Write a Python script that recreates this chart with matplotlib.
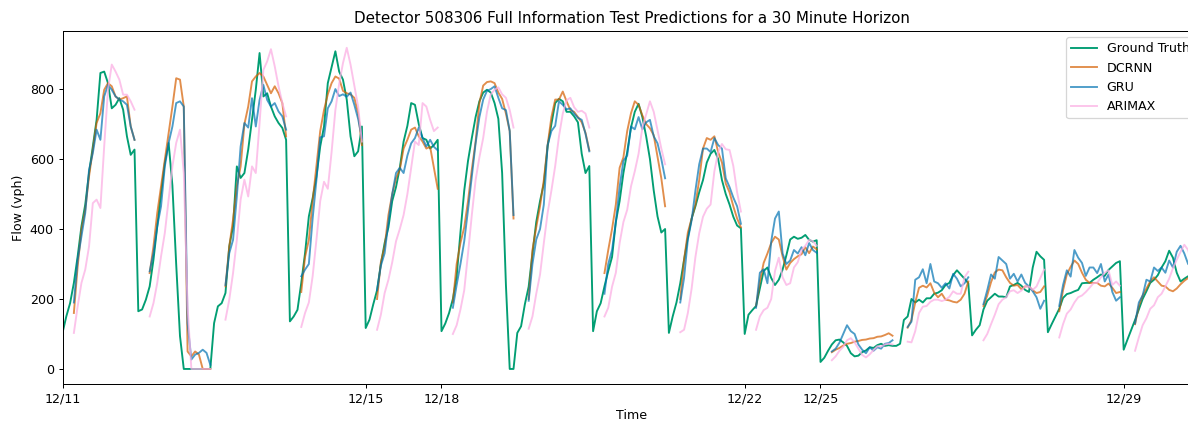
import numpy as np
import matplotlib.pyplot as plt

# weekdays only, 20 samples per day; predictions start 3 samples into each day
day_labels = ["12/11", "12/12", "12/13", "12/14", "12/15",
              "12/18", "12/19", "12/20", "12/21", "12/22",
              "12/25", "12/26", "12/27", "12/28", "12/29"]
tick_labels = ["12/11", "12/15", "12/18", "12/22", "12/25", "12/29"]
samples_per_day = 20
pred_start = 3

ground_truth = [
    [103, 150, 188, 246, 322, 408, 470, 560, 636, 712, 846, 850, 817, 745, 755, 774, 741, 665, 612, 627],
    [165, 170, 198, 236, 312, 408, 503, 589, 646, 524, 299, 94, 0, 0, 0, 0, 0, 0, 0, 0],
    [131, 179, 188, 217, 350, 408, 579, 546, 560, 627, 712, 798, 903, 779, 788, 750, 722, 703, 689, 655],
    [136, 150, 169, 246, 331, 436, 488, 550, 636, 693, 817, 863, 908, 850, 827, 770, 665, 608, 622, 693],
    [117, 141, 185, 225, 300, 360, 405, 480, 520, 575, 650, 695, 760, 755, 700, 660, 655, 630, 640, 655],
    [108, 130, 160, 200, 265, 390, 510, 595, 660, 720, 765, 790, 798, 790, 760, 715, 560, 240, 0, 0],
    [103, 122, 185, 235, 330, 420, 480, 530, 636, 700, 760, 772, 765, 735, 735, 722, 705, 615, 560, 580],
    [108, 165, 188, 236, 280, 320, 420, 480, 560, 620, 690, 735, 758, 720, 665, 600, 510, 436, 390, 400],
    [103, 150, 190, 245, 312, 375, 430, 465, 505, 540, 590, 615, 626, 600, 540, 500, 470, 435, 410, 402],
    [100, 155, 168, 180, 230, 280, 290, 260, 240, 255, 284, 325, 370, 378, 372, 375, 383, 369, 364, 368],
    [20, 32, 52, 70, 82, 84, 76, 66, 45, 36, 38, 48, 53, 62, 60, 68, 72, 66, 68, 66],
    [66, 72, 140, 150, 200, 190, 198, 190, 202, 202, 215, 218, 225, 240, 246, 268, 282, 270, 258, 245],
    [96, 112, 125, 170, 195, 205, 215, 207, 207, 205, 236, 240, 246, 238, 226, 220, 290, 335, 322, 312],
    [105, 128, 150, 172, 203, 214, 217, 222, 226, 245, 246, 246, 255, 262, 270, 266, 283, 293, 303, 308],
    [55, 84, 112, 140, 170, 200, 222, 246, 255, 268, 290, 308, 338, 318, 275, 250, 258, 265, 260, 255],
]

dcrnn = [
    [160, 293, 398, 455, 550, 627, 703, 731, 798, 817, 808, 779, 770, 774, 779, 693, 655],
    [274, 350, 446, 522, 598, 674, 750, 831, 827, 750, 50, 36, 50, 41, 0, 0, 0],
    [236, 350, 427, 522, 579, 700, 750, 822, 836, 846, 836, 812, 788, 808, 788, 760, 665],
    [220, 320, 369, 480, 580, 680, 740, 785, 817, 836, 830, 795, 788, 785, 775, 731, 640],
    [200, 305, 350, 440, 500, 545, 570, 630, 655, 684, 690, 665, 650, 630, 635, 575, 515],
    [190, 300, 360, 405, 480, 570, 650, 760, 810, 820, 822, 817, 790, 772, 730, 680, 430],
    [200, 340, 405, 465, 540, 640, 720, 770, 770, 793, 765, 740, 735, 720, 705, 675, 625],
    [274, 340, 400, 470, 575, 605, 680, 731, 765, 755, 725, 700, 688, 668, 607, 545, 465],
    [200, 312, 390, 430, 470, 540, 630, 660, 655, 665, 620, 590, 530, 505, 465, 430, 405],
    [180, 250, 303, 330, 360, 378, 370, 322, 284, 303, 314, 322, 328, 348, 331, 350, 342],
    [48, 55, 60, 67, 72, 74, 78, 80, 83, 84, 87, 88, 92, 93, 97, 102, 95],
    [118, 140, 190, 232, 238, 233, 245, 218, 205, 215, 198, 196, 192, 190, 198, 215, 250],
    [180, 210, 248, 276, 284, 282, 262, 246, 238, 240, 228, 236, 236, 225, 217, 220, 236],
    [165, 225, 270, 292, 310, 300, 275, 255, 246, 246, 246, 238, 236, 244, 232, 217, 220],
    [128, 180, 210, 230, 250, 262, 250, 238, 236, 226, 222, 230, 242, 252, 260, 250, 255],
]

gru = [
    [190, 312, 379, 446, 569, 617, 684, 655, 779, 812, 798, 779, 770, 765, 755, 693, 655],
    [279, 331, 408, 465, 579, 646, 693, 760, 765, 750, 131, 27, 41, 46, 55, 46, 12],
    [240, 331, 369, 493, 636, 703, 690, 774, 693, 769, 812, 769, 750, 760, 736, 722, 684],
    [265, 284, 300, 430, 540, 662, 665, 745, 765, 800, 780, 785, 778, 790, 755, 715, 660],
    [225, 295, 331, 420, 500, 560, 575, 560, 610, 645, 660, 690, 660, 636, 655, 635, 625],
    [175, 240, 300, 365, 455, 550, 645, 720, 770, 795, 800, 808, 775, 745, 740, 680, 440],
    [195, 300, 370, 400, 470, 640, 680, 695, 765, 755, 742, 745, 730, 718, 712, 672, 622],
    [215, 300, 340, 420, 520, 595, 610, 693, 685, 720, 685, 705, 712, 665, 645, 600, 545],
    [190, 260, 370, 425, 510, 585, 630, 630, 620, 660, 640, 630, 545, 520, 490, 465, 415],
    [175, 275, 285, 245, 365, 430, 450, 330, 300, 310, 340, 330, 348, 325, 360, 340, 332],
    [50, 58, 75, 100, 125, 108, 100, 70, 55, 45, 62, 52, 62, 58, 72, 74, 82],
    [120, 135, 255, 262, 285, 245, 300, 250, 245, 232, 245, 230, 272, 258, 236, 245, 262],
    [185, 225, 270, 258, 320, 310, 300, 258, 272, 250, 270, 246, 236, 222, 205, 172, 195],
    [180, 240, 282, 264, 340, 318, 303, 266, 290, 290, 274, 300, 250, 270, 220, 195, 205],
    [130, 190, 210, 255, 250, 290, 280, 290, 275, 310, 290, 335, 352, 330, 300, 290, 280],
]

arimax = [
    [103, 179, 246, 284, 350, 474, 484, 460, 636, 798, 870, 850, 827, 784, 784, 765, 741],
    [150, 188, 246, 322, 389, 484, 579, 646, 684, 560, 179, 0, 0, 0, 0, 0, 0],
    [141, 198, 274, 369, 484, 541, 493, 579, 560, 703, 855, 879, 914, 865, 808, 760, 722],
    [120, 160, 190, 265, 369, 480, 535, 515, 620, 740, 815, 874, 918, 870, 810, 750, 650],
    [112, 155, 217, 255, 305, 365, 400, 440, 500, 575, 650, 640, 760, 750, 712, 680, 690],
    [100, 125, 170, 225, 330, 440, 540, 605, 660, 735, 785, 798, 805, 785, 775, 740, 690],
    [115, 150, 215, 270, 360, 446, 510, 580, 665, 730, 768, 775, 748, 735, 738, 730, 690],
    [150, 175, 235, 275, 360, 420, 455, 522, 565, 615, 690, 728, 765, 735, 683, 630, 585],
    [105, 112, 160, 230, 320, 388, 435, 458, 470, 565, 620, 643, 628, 626, 580, 505, 450],
    [112, 150, 168, 175, 200, 280, 318, 262, 240, 245, 290, 305, 340, 352, 369, 365, 352],
    [25, 36, 52, 63, 82, 88, 76, 58, 40, 33, 42, 54, 65, 64, 70, 72, 70],
    [78, 76, 108, 160, 178, 180, 192, 198, 198, 194, 198, 206, 222, 215, 215, 262, 278],
    [82, 100, 128, 155, 185, 198, 205, 222, 225, 217, 224, 236, 236, 226, 236, 260, 284],
    [90, 128, 158, 170, 190, 205, 210, 220, 232, 245, 246, 262, 275, 282, 240, 250, 238],
    [52, 90, 125, 145, 172, 182, 205, 215, 236, 258, 288, 312, 335, 355, 340, 300, 290],
]


def day_times():
    return np.concatenate([d + np.arange(samples_per_day) / samples_per_day
                           for d in range(len(day_labels))])


def stitch_predictions(days):
    # pad the start of every day with NaN so the lines break between days
    pad = [np.nan] * pred_start
    return np.concatenate([pad + list(vals) for vals in days])


t = day_times()
gt = np.concatenate(ground_truth)

dpi = 91
fig = plt.figure(figsize=(1188 / dpi, 421 / dpi), dpi=dpi)
ax = fig.add_axes([62.5 / 1188, 37 / 421, (1201 - 62.5) / 1188, 353 / 421])

ax.plot(t, gt, color='#029e73', lw=1.5, label='Ground Truth')
ax.plot(t, stitch_predictions(dcrnn), color='#d55e00', alpha=0.7, lw=1.5, label='DCRNN')
ax.plot(t, stitch_predictions(gru), color='#0173b2', alpha=0.7, lw=1.5, label='GRU')
ax.plot(t, stitch_predictions(arimax), color='#fbafe4', alpha=0.75, lw=1.5, label='ARIMAX')

ax.set_xticks([day_labels.index(lbl) for lbl in tick_labels])
ax.set_xticklabels(tick_labels)
ax.set_xlim(0, 15.02)
ax.set_ylim(-43, 966)
ax.set_xlabel('Time', labelpad=2.5)
ax.set_ylabel('Flow (vph)')
ax.set_title('Detector 508306 Full Information Test Predictions for a 30 Minute Horizon')
ax.legend(loc='upper right')

fig.savefig('out.png', dpi=dpi)
